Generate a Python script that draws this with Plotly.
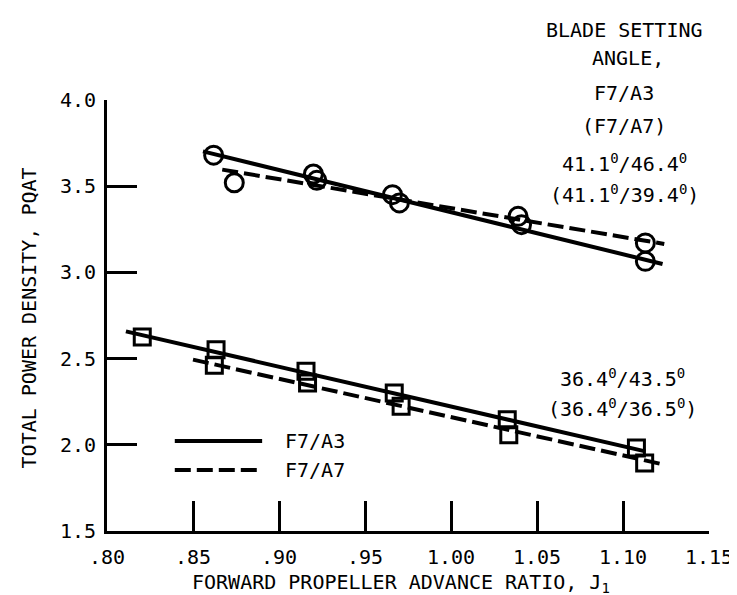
import plotly.graph_objects as go

# ---- data ----
circ_a3_x = [0.862, 0.920, 0.970, 1.041, 1.113]
circ_a3_y = [3.68, 3.571, 3.403, 3.277, 3.064]
circ_a7_x = [0.874, 0.922, 0.966, 1.039, 1.113]
circ_a7_y = [3.52, 3.534, 3.451, 3.325, 3.171]

sq_a3_x = [0.8205, 0.8634, 0.9157, 0.967, 1.0327, 1.1078]
sq_a3_y = [2.625, 2.552, 2.426, 2.300, 2.146, 1.981]
sq_a7_x = [0.8624, 0.9166, 0.971, 1.0336, 1.1126]
sq_a7_y = [2.461, 2.358, 2.223, 2.059, 1.894]

# faired lines (end points)
fit_circ_a3_x = [0.8558, 1.123]
fit_circ_a3_y = [3.702, 3.049]
fit_circ_a7_x = [0.867, 1.124]
fit_circ_a7_y = [3.596, 3.165]
fit_sq_a3_x = [0.811, 1.113]
fit_sq_a3_y = [2.658, 1.962]
fit_sq_a7_x = [0.850, 1.124]
fit_sq_a7_y = [2.494, 1.885]

x_ticks = [0.80, 0.85, 0.90, 0.95, 1.00, 1.05, 1.10, 1.15]
x_tick_labels = [".80", ".85", ".90", ".95", "1.00", "1.05", "1.10", "1.15"]
y_ticks = [1.5, 2.0, 2.5, 3.0, 3.5, 4.0]
y_tick_labels = ["1.5", "2.0", "2.5", "3.0", "3.5", "4.0"]

FONT = "DejaVu Sans Mono"
BLACK = "black"
DASH = "16px,6px"

fig = go.Figure()

def line(x, y, dash):
    fig.add_trace(go.Scatter(x=x, y=y, mode="lines",
                             line=dict(color=BLACK, width=4, dash=dash),
                             showlegend=False, hoverinfo="skip"))

def pts(x, y, sym, size):
    fig.add_trace(go.Scatter(x=x, y=y, mode="markers",
                             marker=dict(symbol=sym, size=size, color=BLACK,
                                         line=dict(color=BLACK, width=3)),
                             showlegend=False))

line(fit_circ_a3_x, fit_circ_a3_y, "solid")
line(fit_circ_a7_x, fit_circ_a7_y, DASH)
line(fit_sq_a3_x, fit_sq_a3_y, "solid")
line(fit_sq_a7_x, fit_sq_a7_y, DASH)
pts(circ_a3_x, circ_a3_y, "circle-open", 18)
pts(circ_a7_x, circ_a7_y, "circle-open", 18)
pts(sq_a3_x, sq_a3_y, "square-open", 16)
pts(sq_a7_x, sq_a7_y, "square-open", 16)

annos = []
def txt(s, x, y, xanchor="center", angle=0):
    annos.append(dict(text=s, x=x, y=y, xref="paper", yref="paper",
                      xanchor=xanchor, yanchor="middle", showarrow=False,
                      textangle=angle, font=dict(family=FONT, size=20, color=BLACK)))

txt("BLADE SETTING", 0.860, 1.162)
txt("ANGLE,", 0.866, 1.097)
txt("F7/A3", 0.858, 1.016)
txt("(F7/A7)", 0.858, 0.940)
txt("41.1<sup>0</sup>/46.4<sup>0</sup>", 0.860, 0.854)
txt("(41.1<sup>0</sup>/39.4<sup>0</sup>)", 0.860, 0.782)
txt("36.4<sup>0</sup>/43.5<sup>0</sup>", 0.856, 0.355)
txt("(36.4<sup>0</sup>/36.5<sup>0</sup>)", 0.856, 0.285)
txt("F7/A3", 0.292, 0.209, xanchor="left")
txt("F7/A7", 0.292, 0.1415, xanchor="left")
txt("TOTAL POWER DENSITY, PQAT", -0.129, 0.494, angle=-90)
txt("FORWARD PROPELLER ADVANCE RATIO, J<sub>1</sub>", 0.489, -0.121)

shapes = [
    dict(type="line", xref="paper", yref="paper", x0=0.1126, x1=0.2577,
         y0=0.209, y1=0.209, line=dict(color=BLACK, width=4)),
    dict(type="line", xref="paper", yref="paper", x0=0.1126, x1=0.2577,
         y0=0.1415, y1=0.1415, line=dict(color=BLACK, width=4, dash=DASH)),
]

fig.update_layout(
    width=737, height=595,
    margin=dict(l=99, r=25, t=92, b=72),
    paper_bgcolor="white", plot_bgcolor="white",
    annotations=annos, shapes=shapes,
    showlegend=False,
    font=dict(family=FONT, size=20, color=BLACK),
)
fig.update_xaxes(range=[0.80, 1.15], tickvals=x_ticks, ticktext=x_tick_labels,
                 ticks="inside", ticklen=30, tickwidth=2.5, tickcolor=BLACK,
                 showline=True, linewidth=3, linecolor=BLACK, showgrid=False,
                 zeroline=False, ticklabelstandoff=6,
                 tickfont=dict(family=FONT, size=20, color=BLACK))
fig.update_yaxes(range=[1.5, 4.0], tickvals=y_ticks, ticktext=y_tick_labels,
                 ticks="inside", ticklen=30, tickwidth=2.5, tickcolor=BLACK,
                 showline=True, linewidth=3, linecolor=BLACK, showgrid=False,
                 zeroline=False, ticklabelstandoff=4,
                 tickfont=dict(family=FONT, size=20, color=BLACK))

fig.write_html("out.html")
